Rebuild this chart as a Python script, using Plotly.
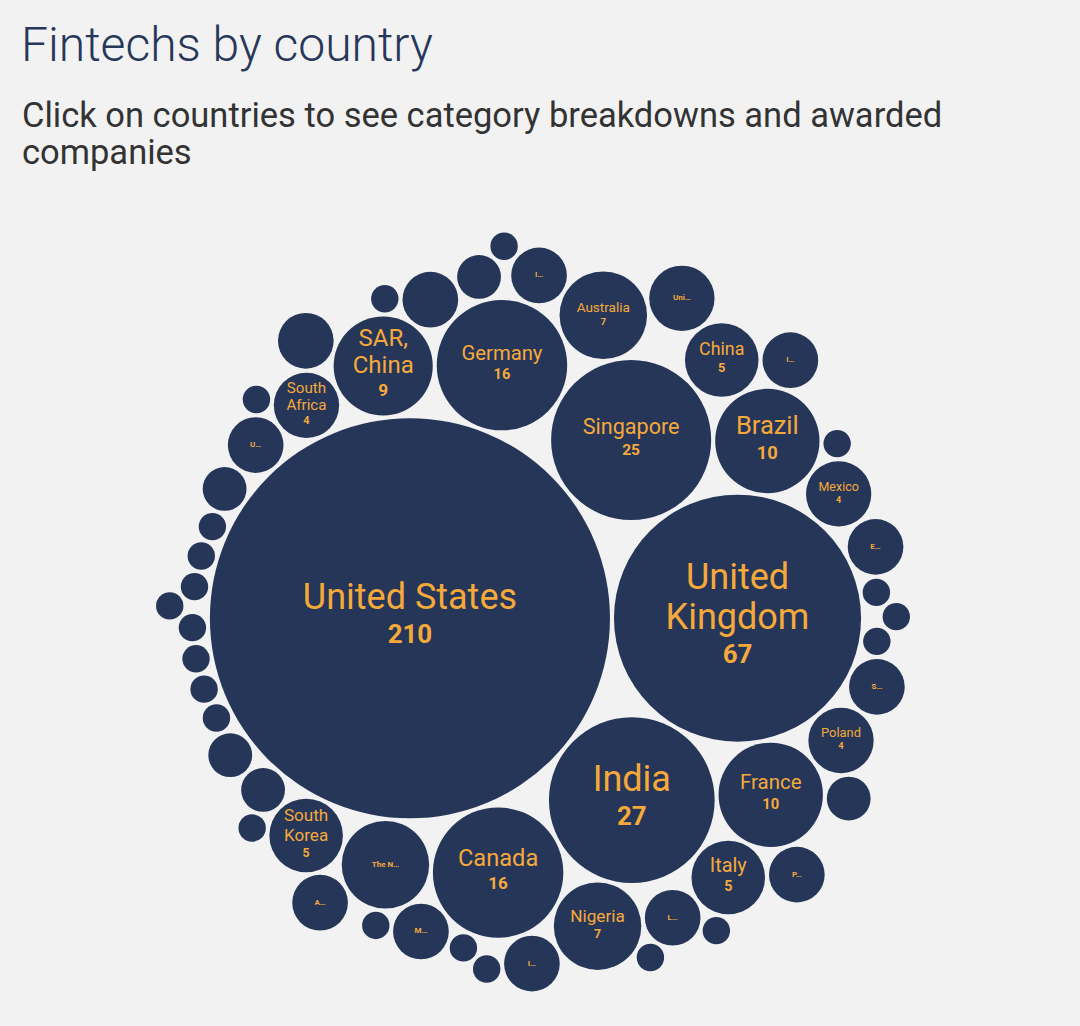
import math
import plotly.graph_objects as go

# ---------------- data (in the order the bubbles are packed) ----------------
countries = [
    "United States", "United\nKingdom", "India", "Singapore",
    "Germany", "Canada", "Brazil", "France", "SAR,\nChina",
    "The N…", "Australia", "Nigeria", "South\nKorea", "South\nAfrica",
    "China", "Italy", "Mexico", "Poland", "Uni…",
    "M…", "", "L…", "", "U…", "I…", "I…", "E…", "S…", "", "",
    "A…", "", "I…", "P…", "", "", "", "", "",
    "", "", "", "", "", "", "", "", "", "", "", "", "", "", "", "", "", "",
]
fintechs = [
    210, 67, 27, 25,
    16, 16, 10, 10, 9,
    7, 7, 7, 5, 4,
    5, 5, 4, 4, 4,
    3, 3, 3, 2, 3, 3, 3, 3, 3, 2, 2,
    3, 3, 3, 3, 1, 2, 1, 1, 2,
    1, 1, 1, 1, 1, 1, 1, 1, 1, 1, 1, 1, 1, 1, 1, 1, 1, 1,
]
show_values = [not (n == "" or n.endswith("…")) for n in countries]

TITLE = "Fintechs by country"
SUBTITLE = ["Click on countries to see category breakdowns and awarded", "companies"]

# ---------------- styles ----------------
BG = "#f2f2f2"
BUBBLE = "#253659"
LABEL = "#f6a93b"
PAD = 2.0
W, H = 1080, 1026
CENTER = (533.0, 612.0)


def radius(v):
    return 26.44 * v ** 0.39 - 12.74


# ---------------- d3.packSiblings port ----------------
class Node:
    __slots__ = ("c", "next", "prev")

    def __init__(self, c):
        self.c = c
        self.next = None
        self.prev = None


def place(b, a, c):
    dx = b["x"] - a["x"]
    dy = b["y"] - a["y"]
    d2 = dx * dx + dy * dy
    if d2:
        a2 = (a["r"] + c["r"]) ** 2
        b2 = (b["r"] + c["r"]) ** 2
        if a2 > b2:
            x = (d2 + b2 - a2) / (2 * d2)
            y = math.sqrt(max(0.0, b2 / d2 - x * x))
            c["x"] = b["x"] - x * dx - y * dy
            c["y"] = b["y"] - x * dy + y * dx
        else:
            x = (d2 + a2 - b2) / (2 * d2)
            y = math.sqrt(max(0.0, a2 / d2 - x * x))
            c["x"] = a["x"] + x * dx - y * dy
            c["y"] = a["y"] + x * dy + y * dx
    else:
        c["x"] = a["x"] + c["r"]
        c["y"] = a["y"]


def intersects(a, b):
    dr = a["r"] + b["r"] - 1e-6
    dx = b["x"] - a["x"]
    dy = b["y"] - a["y"]
    return dr > 0 and dr * dr > dx * dx + dy * dy


def score(node):
    a = node.c
    b = node.next.c
    ab = a["r"] + b["r"]
    dx = (a["x"] * b["r"] + b["x"] * a["r"]) / ab
    dy = (a["y"] * b["r"] + b["y"] * a["r"]) / ab
    return dx * dx + dy * dy


def pack(circles):
    n = len(circles)
    a = circles[0]
    a["x"] = 0.0
    a["y"] = 0.0
    if n < 2:
        return
    b = circles[1]
    a["x"] = -b["r"]
    b["x"] = a["r"]
    b["y"] = 0.0
    if n < 3:
        return
    place(b, a, circles[2])
    a, b, c = Node(a), Node(b), Node(circles[2])
    a.next = b
    c.prev = b
    b.next = c
    a.prev = c
    c.next = a
    b.prev = a
    i = 3
    while i < n:
        place(a.c, b.c, circles[i])
        c = Node(circles[i])
        j, k = b.next, a.prev
        sj, sk = b.c["r"], a.c["r"]
        retry = False
        while True:
            if sj <= sk:
                if intersects(j.c, c.c):
                    b = j
                    a.next = b
                    b.prev = a
                    retry = True
                    break
                sj += j.c["r"]
                j = j.next
            else:
                if intersects(k.c, c.c):
                    a = k
                    a.next = b
                    b.prev = a
                    retry = True
                    break
                sk += k.c["r"]
                k = k.prev
            if j is k.next:
                break
        if retry:
            continue
        c.prev = a
        c.next = b
        a.next = c
        b.prev = c
        b = c
        aa = score(a)
        c = c.next
        while c is not b:
            ca = score(c)
            if ca < aa:
                a = c
                aa = ca
            c = c.next
        b = a.next
        i += 1


circles = [{"i": i, "r": radius(v) + PAD, "x": 0.0, "y": 0.0} for i, v in enumerate(fintechs)]
pack(circles)
for c in circles:
    c["r"] -= PAD
x0 = min(c["x"] - c["r"] for c in circles)
x1 = max(c["x"] + c["r"] for c in circles)
y0 = min(c["y"] - c["r"] for c in circles)
y1 = max(c["y"] + c["r"] for c in circles)
ox = CENTER[0] - (x0 + x1) / 2
oy = CENTER[1] - (y0 + y1) / 2
for c in circles:
    c["x"] += ox
    c["y"] += oy

# ---------------- labels ----------------
CW = {"a": .55, "b": .57, "c": .52, "d": .57, "e": .54, "f": .35, "g": .57, "h": .56,
      "i": .25, "j": .25, "k": .51, "l": .25, "m": .87, "n": .56, "o": .57, "p": .57,
      "q": .57, "r": .35, "s": .51, "t": .34, "u": .56, "v": .49, "w": .76, "x": .5,
      "y": .48, "z": .5, " ": .25, ",": .22, "I": .28, "M": .86, "W": .88, "…": .8}


def text_em(s):
    return sum(CW.get(ch, .64 if ch.isupper() else .56) for ch in s)


FONT = "Roboto, 'Noto Sans', sans-serif"
name_x, name_y, name_t, name_s = [], [], [], []
val_x, val_y, val_t, val_s = [], [], [], []
tr_x, tr_y, tr_t = [], [], []
for c in circles:
    i = c["i"]
    nm = countries[i]
    if not nm:
        continue
    if nm.endswith("…"):
        tr_x.append(c["x"])
        tr_y.append(c["y"])
        tr_t.append(nm)
        continue
    lines = nm.split("\n")
    d = 2 * c["r"]
    fs = min(36.0, 0.27 * d, 0.62 * d / max(text_em(l) for l in lines))
    line_pitch = 1.12 * fs
    val_pitch = 1.02 * fs
    total = line_pitch * (len(lines) - 1) + (val_pitch if show_values[i] else 0)
    top = c["y"] - total / 2
    for li, line in enumerate(lines):
        name_x.append(c["x"])
        name_y.append(top + li * line_pitch)
        name_t.append(line)
        name_s.append(fs)
    if show_values[i]:
        val_x.append(c["x"])
        val_y.append(top + line_pitch * (len(lines) - 1) + val_pitch)
        val_t.append(str(fintechs[i]))
        val_s.append(0.72 * fs)

fig = go.Figure()
fig.add_trace(go.Scatter(
    x=[c["x"] for c in circles], y=[c["y"] for c in circles],
    mode="markers",
    marker=dict(size=[2 * c["r"] for c in circles], sizemode="diameter",
                color=BUBBLE, opacity=1, line=dict(width=0)),
    hoverinfo="text",
    text=[countries[c["i"]].replace("\n", " ") + f": {fintechs[c['i']]}" for c in circles],
    showlegend=False,
))
fig.add_trace(go.Scatter(
    x=name_x, y=name_y, text=name_t, mode="text", textposition="middle center",
    textfont=dict(family=FONT, size=name_s, color=LABEL),
    hoverinfo="skip", showlegend=False,
))
fig.add_trace(go.Scatter(
    x=val_x, y=val_y, text=val_t, mode="text", textposition="middle center",
    textfont=dict(family=FONT, size=val_s, color=LABEL, weight="bold"),
    hoverinfo="skip", showlegend=False,
))
fig.add_trace(go.Scatter(
    x=tr_x, y=tr_y, text=tr_t, mode="text", textposition="middle center",
    textfont=dict(family=FONT, size=8, color=LABEL, weight="bold"),
    hoverinfo="skip", showlegend=False,
))

fig.add_annotation(
    text=TITLE, xref="paper", yref="paper", x=19 / W, y=1 - 14 / H,
    xanchor="left", yanchor="top", showarrow=False,
    font=dict(family="Roboto, sans-serif", size=48, color="#26375a", weight=300),
)
for k, line in enumerate(SUBTITLE):
    fig.add_annotation(
        text=line, xref="paper", yref="paper", x=20 / W, y=1 - (115 + 37 * k) / H,
        xanchor="left", yanchor="middle", showarrow=False,
        font=dict(family="Roboto, sans-serif", size=34.5, color="#333333"),
    )

fig.update_layout(
    width=W, height=H, margin=dict(l=0, r=0, t=0, b=0),
    paper_bgcolor=BG, plot_bgcolor=BG,
    xaxis=dict(range=[0, W], visible=False, fixedrange=True),
    yaxis=dict(range=[H, 0], visible=False, fixedrange=True),
)
fig.write_html("out.html")
